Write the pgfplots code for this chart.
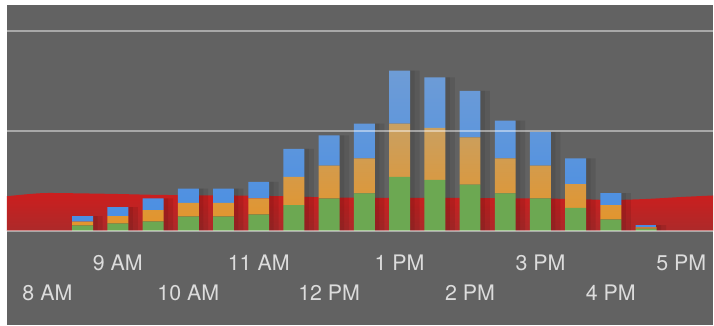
\documentclass[border=0pt]{standalone}
\usepackage{fontspec}
\setmainfont{TeX Gyre Heros}
\usepackage{pgfplots}
\pgfplotsset{compat=1.18}
\definecolor{bg}{RGB}{98,98,98}
\definecolor{redtop}{RGB}{204,30,30}
\definecolor{redbot}{RGB}{172,42,42}
\definecolor{grn}{RGB}{108,168,82}
\definecolor{orgtop}{RGB}{201,160,98}
\definecolor{orgbot}{RGB}{228,148,42}
\definecolor{blutop}{RGB}{110,156,214}
\definecolor{blubot}{RGB}{72,142,228}
\definecolor{lbl}{RGB}{220,220,220}
\begin{document}
\begin{tikzpicture}
\fill[white] (0,0) rectangle (714bp,326bp);
\begin{axis}[at={(6bp,0bp)}, anchor=south west, scale only axis,
  width=708bp, height=321bp,
  xmin=-1.153, xmax=18.9, ymin=-94.5, ymax=226.5,
  axis line style={draw=none}, xtick=\empty, ytick=\empty,
  axis background/.style={fill=bg}]
\addplot[draw=none, top color=redtop, bottom color=redbot, smooth, tension=0.5] coordinates {
(-1.153,34.8) (-0.5,37) (0,38) (1,37.6) (2,37) (3,36.2) (4,35.8) (5,35.6) (6,35.2) (7,34.5) (8,33.5) (9,33.2) (10,33.2) (11,33.2) (12,33) (13,32.8) (14,32.4) (15,32) (16,31) (17,32) (18,34) (18.9,35.5)} \closedcycle;
\addplot[ybar, bar width=10bp, bar shift=15bp, fill=black, fill opacity=0.09, draw=none] coordinates {
(1,14.8) (2,23.8) (3,32.5) (4,42.5) (5,42.5) (6,49.2) (7,82.2) (8,95.8) (9,107.5) (10,160.8) (11,153.8) (12,140.5) (13,110.5) (14,99.2) (15,72.8) (16,37.8) (17,5.8)};
\addplot[ybar, bar width=5bp, bar shift=12.5bp, fill=black, fill opacity=0.08, draw=none] coordinates {
(1,14.8) (2,23.8) (3,32.5) (4,42.5) (5,42.5) (6,49.2) (7,82.2) (8,95.8) (9,107.5) (10,160.8) (11,153.8) (12,140.5) (13,110.5) (14,99.2) (15,72.8) (16,37.8) (17,5.8)};
\end{axis}
\begin{axis}[at={(6bp,0bp)}, anchor=south west, scale only axis,
  width=708bp, height=321bp,
  xmin=-1.153, xmax=18.9, ymin=-94.5, ymax=226.5,
  ybar stacked, bar width=21bp, axis on top,
  axis line style={draw=none}, major tick length=0pt,
  ytick={0,100,200}, yticklabels={}, ymajorgrids,
  grid style={draw=white, draw opacity=0.45, line width=2bp},
  xtick={0,2,...,18},
  xticklabels={8 AM,\raisebox{30bp}{9 AM},10 AM,\raisebox{30bp}{11 AM},12 PM,\raisebox{30bp}{1 PM},2 PM,\raisebox{30bp}{3 PM},4 PM,\raisebox{30bp}{5 PM}},
  xticklabel style={anchor=base, yshift=25bp, text=lbl, font=\fontsize{21.5}{25}\selectfont}]
\addplot[draw=none, fill=grn] coordinates {
(1,5.5) (2,7.5) (3,9.5) (4,14.5) (5,14.5) (6,16.5) (7,25.8) (8,32.5) (9,37.5) (10,54.2) (11,51.2) (12,46.5) (13,37.5) (14,32.5) (15,23.2) (16,11.5) (17,2.2)};
\addplot[draw=none, top color=orgtop, bottom color=orgbot] coordinates {
(1,3.7) (2,7.3) (3,11.3) (4,13.7) (5,13.7) (6,16) (7,28.4) (8,33) (9,35.3) (10,53.3) (11,52) (12,47.3) (13,35.3) (14,33) (15,23.6) (16,14.3) (17,1.3)};
\addplot[draw=none, top color=blutop, bottom color=blubot] coordinates {
(1,5.6) (2,9.0) (3,11.7) (4,14.3) (5,14.3) (6,16.7) (7,28) (8,30.3) (9,34.7) (10,53.3) (11,50.6) (12,46.7) (13,37.7) (14,33.7) (15,26) (16,12) (17,2.3)};
\end{axis}
\end{tikzpicture}
\end{document}
